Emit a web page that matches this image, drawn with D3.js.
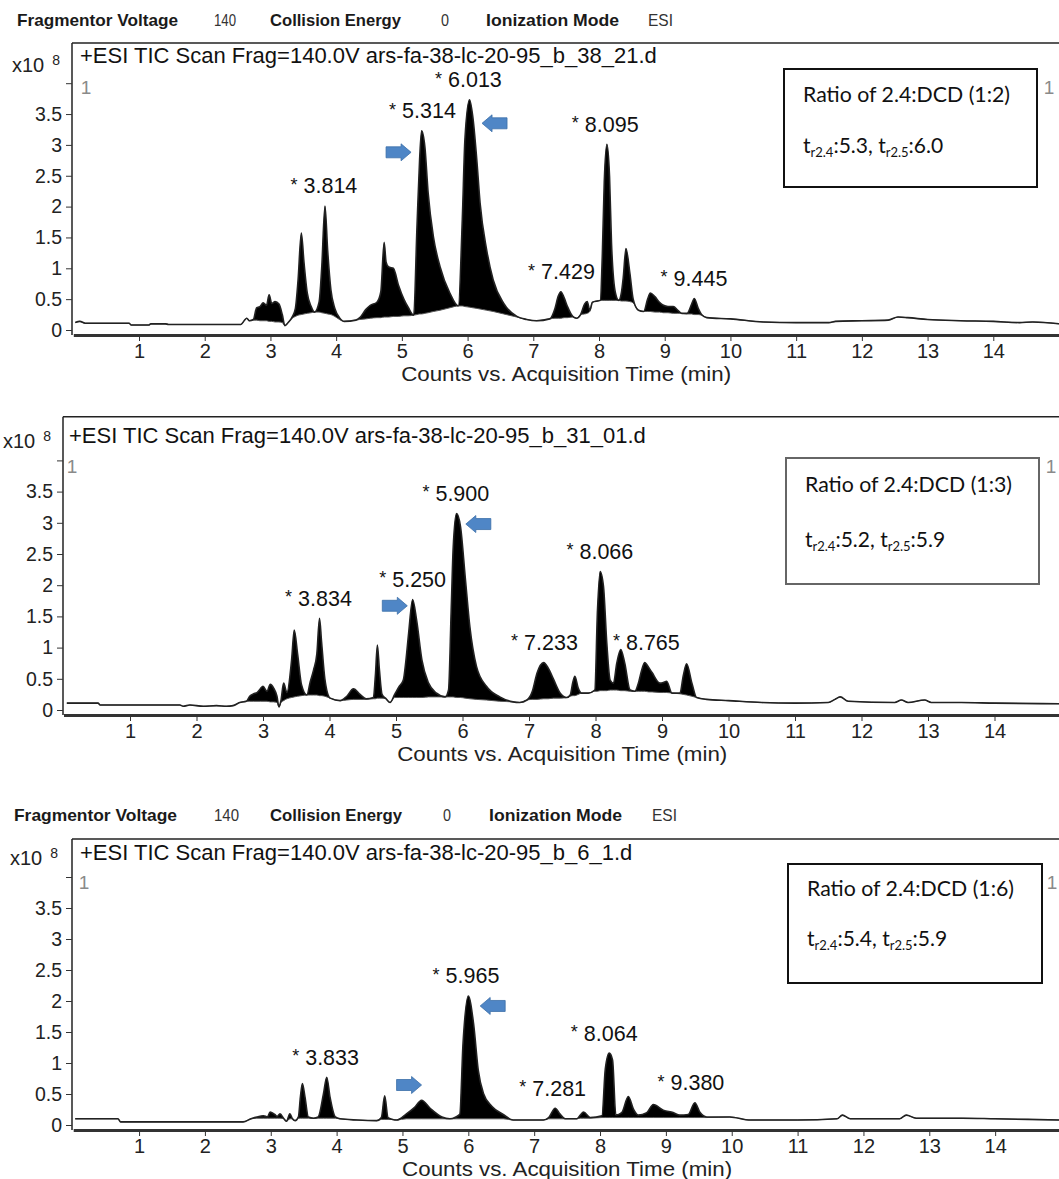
<!DOCTYPE html>
<html>
<head>
<meta charset="utf-8">
<script src="https://cdn.jsdelivr.net/npm/d3@7"></script>
<style>
body { margin: 0; background: #fff; }
svg { display: block; }
</style>
</head>
<body>
<svg id="chart" width="1059" height="1179"></svg>
<script>
// axis ticks (counts are x10^8)
var xTicks = [1, 2, 3, 4, 5, 6, 7, 8, 9, 10, 11, 12, 13, 14];
var yTicks = [0, 0.5, 1, 1.5, 2, 2.5, 3, 3.5, 4];
var yTickLabels = ["0", "0.5", "1", "1.5", "2", "2.5", "3", "3.5", ""];

var headerLabels = ["Fragmentor Voltage", "140", "Collision Energy", "0", "Ionization Mode", "ESI"];
var runTitles = [
	"+ESI TIC Scan Frag=140.0V ars-fa-38-lc-20-95_b_38_21.d",
	"+ESI TIC Scan Frag=140.0V ars-fa-38-lc-20-95_b_31_01.d",
	"+ESI TIC Scan Frag=140.0V ars-fa-38-lc-20-95_b_6_1.d"
];
var ratios = ["1:2", "1:3", "1:6"];
var rt24 = ["5.3", "5.2", "5.4"];
var rt25 = ["6.0", "5.9", "5.9"];

// [time (min), TIC, integration baseline]
var run1Trace = [[0.03,0.12,0.12],[0.1,0.14,0.14],[0.18,0.11,0.11],[0.85,0.11,0.11],[0.88,0.08,0.08],[1.15,0.08,0.08],[1.18,0.10,0.10],[1.4,0.10,0.10],[1.45,0.09,0.09],[2.55,0.09,0.09],[2.6,0.15,0.15],[2.64,0.19,0.19],[2.68,0.15,0.15],[2.74,0.17,0.16],[2.79,0.36,0.16],[2.84,0.38,0.15],[2.89,0.44,0.15],[2.94,0.40,0.15],[2.98,0.57,0.14],[3.02,0.43,0.14],[3.07,0.46,0.13],[3.13,0.42,0.13],[3.18,0.25,0.12],[3.22,0.07,0.07],[3.27,0.12,0.12],[3.33,0.21,0.19],[3.38,0.35,0.22],[3.42,0.80,0.24],[3.47,1.57,0.25],[3.51,1.10,0.26],[3.56,0.60,0.27],[3.62,0.38,0.28],[3.67,0.29,0.29],[3.74,0.45,0.29],[3.78,1.00,0.28],[3.83,2.01,0.27],[3.87,1.30,0.26],[3.92,0.65,0.25],[3.98,0.35,0.22],[4.05,0.20,0.17],[4.12,0.14,0.14],[4.3,0.16,0.16],[4.36,0.20,0.17],[4.45,0.33,0.18],[4.52,0.40,0.19],[4.62,0.45,0.20],[4.68,0.62,0.20],[4.73,1.42,0.21],[4.76,1.10,0.21],[4.80,1.02,0.21],[4.87,1.00,0.22],[4.95,0.72,0.22],[5.03,0.50,0.23],[5.10,0.36,0.23],[5.18,0.24,0.24],[5.23,1.67,0.25],[5.27,2.76,0.26],[5.30,3.23,0.26],[5.35,2.97,0.27],[5.40,2.22,0.28],[5.48,1.51,0.30],[5.58,1.03,0.32],[5.73,0.60,0.36],[5.86,0.39,0.39],[5.92,1.80,0.39],[5.96,3.10,0.38],[6.03,3.73,0.37],[6.08,3.45,0.36],[6.14,2.76,0.35],[6.19,2.06,0.34],[6.29,1.30,0.32],[6.39,0.81,0.30],[6.55,0.43,0.26],[6.75,0.22,0.21],[6.90,0.17,0.17],[7.05,0.15,0.15],[7.25,0.18,0.18],[7.33,0.35,0.19],[7.38,0.55,0.19],[7.42,0.62,0.19],[7.47,0.52,0.20],[7.52,0.38,0.20],[7.60,0.22,0.21],[7.66,0.19,0.19],[7.72,0.25,0.25],[7.78,0.42,0.26],[7.82,0.46,0.27],[7.86,0.32,0.30],[7.9,0.45,0.45],[8.02,0.48,0.48],[8.05,1.20,0.48],[8.08,2.40,0.48],[8.12,3.01,0.48],[8.16,2.49,0.48],[8.19,1.41,0.48],[8.25,0.60,0.48],[8.30,0.48,0.48],[8.34,0.60,0.47],[8.37,0.86,0.47],[8.41,1.32,0.47],[8.47,0.92,0.46],[8.52,0.50,0.44],[8.60,0.32,0.32],[8.68,0.30,0.30],[8.74,0.50,0.30],[8.78,0.60,0.30],[8.85,0.54,0.29],[8.92,0.45,0.29],[8.98,0.40,0.28],[9.05,0.38,0.28],[9.13,0.38,0.27],[9.2,0.32,0.27],[9.26,0.27,0.27],[9.34,0.27,0.26],[9.41,0.42,0.26],[9.45,0.51,0.25],[9.51,0.35,0.25],[9.56,0.25,0.24],[9.64,0.20,0.20],[10.0,0.18,0.18],[10.5,0.13,0.13],[11.0,0.12,0.12],[11.5,0.12,0.12],[11.6,0.14,0.14],[12.0,0.15,0.15],[12.4,0.16,0.16],[12.55,0.21,0.21],[12.7,0.20,0.20],[13.0,0.17,0.17],[13.5,0.15,0.15],[14.0,0.14,0.14],[14.4,0.12,0.12],[14.6,0.13,0.13],[15.0,0.10,0.10]];

var run2Trace = [[0.05,0.11,0.11],[0.52,0.11,0.11],[0.55,0.08,0.08],[1.75,0.08,0.08],[1.8,0.06,0.06],[1.9,0.08,0.08],[2.1,0.06,0.06],[2.3,0.07,0.07],[2.45,0.06,0.06],[2.55,0.07,0.07],[2.65,0.12,0.12],[2.75,0.14,0.14],[2.80,0.22,0.14],[2.86,0.26,0.14],[2.91,0.28,0.14],[2.96,0.34,0.14],[3.00,0.38,0.14],[3.06,0.30,0.14],[3.11,0.41,0.13],[3.16,0.35,0.13],[3.21,0.22,0.12],[3.24,0.05,0.05],[3.27,0.15,0.12],[3.31,0.43,0.15],[3.36,0.28,0.18],[3.43,0.80,0.20],[3.47,1.28,0.21],[3.52,0.90,0.22],[3.58,0.40,0.23],[3.66,0.24,0.24],[3.71,0.45,0.24],[3.76,0.64,0.24],[3.81,0.90,0.24],[3.85,1.47,0.23],[3.88,1.10,0.23],[3.93,0.50,0.22],[4.01,0.19,0.19],[4.16,0.15,0.15],[4.26,0.22,0.16],[4.36,0.34,0.17],[4.46,0.25,0.17],[4.55,0.18,0.17],[4.66,0.20,0.18],[4.69,0.55,0.18],[4.72,1.04,0.19],[4.75,0.65,0.19],[4.79,0.25,0.19],[4.85,0.18,0.18],[4.91,0.12,0.12],[4.98,0.25,0.20],[5.05,0.38,0.20],[5.11,0.48,0.20],[5.15,0.80,0.20],[5.19,1.23,0.20],[5.25,1.77,0.20],[5.31,1.44,0.20],[5.39,0.80,0.20],[5.49,0.43,0.21],[5.61,0.27,0.21],[5.74,0.21,0.21],[5.79,0.32,0.21],[5.83,1.60,0.21],[5.86,2.60,0.21],[5.91,3.15,0.20],[5.97,2.94,0.20],[6.04,2.14,0.19],[6.11,1.34,0.18],[6.21,0.70,0.17],[6.36,0.38,0.16],[6.56,0.21,0.14],[6.76,0.13,0.13],[6.86,0.12,0.12],[6.97,0.16,0.16],[7.05,0.30,0.17],[7.12,0.59,0.17],[7.22,0.76,0.18],[7.29,0.67,0.18],[7.37,0.49,0.19],[7.47,0.27,0.19],[7.57,0.20,0.20],[7.62,0.24,0.22],[7.66,0.45,0.23],[7.69,0.54,0.23],[7.74,0.35,0.25],[7.79,0.27,0.27],[7.89,0.27,0.27],[7.99,0.32,0.30],[8.03,1.60,0.30],[8.07,2.22,0.31],[8.12,1.98,0.31],[8.17,1.07,0.31],[8.22,0.48,0.32],[8.27,0.43,0.32],[8.32,0.75,0.32],[8.38,0.97,0.31],[8.44,0.75,0.31],[8.52,0.32,0.30],[8.59,0.30,0.30],[8.65,0.45,0.30],[8.69,0.62,0.30],[8.74,0.76,0.30],[8.80,0.68,0.29],[8.85,0.60,0.29],[8.97,0.43,0.28],[9.02,0.44,0.28],[9.07,0.46,0.28],[9.15,0.27,0.27],[9.27,0.27,0.26],[9.32,0.55,0.25],[9.37,0.74,0.24],[9.45,0.43,0.22],[9.52,0.20,0.20],[9.67,0.17,0.17],[10.0,0.15,0.15],[10.5,0.12,0.12],[11.0,0.11,0.11],[11.5,0.12,0.12],[11.6,0.17,0.17],[11.68,0.21,0.21],[11.8,0.14,0.14],[12.5,0.12,0.12],[12.6,0.16,0.16],[12.7,0.12,0.12],[12.95,0.16,0.16],[13.05,0.12,0.12],[13.5,0.12,0.12],[14.0,0.11,0.11],[15.0,0.10,0.10]];

var run3Trace = [[0.03,0.10,0.10],[0.68,0.10,0.10],[0.72,0.05,0.05],[2.58,0.05,0.05],[2.7,0.10,0.10],[2.79,0.13,0.11],[2.89,0.15,0.11],[2.95,0.13,0.11],[2.99,0.21,0.11],[3.06,0.17,0.11],[3.10,0.14,0.11],[3.14,0.18,0.11],[3.2,0.10,0.10],[3.24,0.06,0.06],[3.29,0.18,0.10],[3.33,0.10,0.10],[3.37,0.07,0.07],[3.42,0.13,0.11],[3.45,0.45,0.11],[3.48,0.67,0.11],[3.52,0.45,0.11],[3.57,0.13,0.11],[3.65,0.11,0.11],[3.72,0.13,0.11],[3.80,0.50,0.11],[3.85,0.77,0.11],[3.90,0.45,0.11],[3.98,0.13,0.11],[4.05,0.10,0.10],[4.31,0.08,0.08],[4.61,0.07,0.07],[4.68,0.12,0.09],[4.73,0.47,0.09],[4.78,0.12,0.09],[4.85,0.09,0.09],[4.91,0.08,0.08],[5.06,0.18,0.10],[5.18,0.28,0.10],[5.29,0.40,0.10],[5.42,0.27,0.10],[5.60,0.13,0.10],[5.72,0.10,0.10],[5.87,0.17,0.10],[5.92,1.32,0.10],[6.00,2.08,0.10],[6.08,1.63,0.10],[6.15,0.89,0.10],[6.23,0.51,0.10],[6.36,0.30,0.10],[6.53,0.17,0.10],[6.68,0.08,0.08],[7.14,0.08,0.08],[7.22,0.12,0.10],[7.32,0.27,0.10],[7.39,0.18,0.10],[7.47,0.10,0.10],[7.65,0.10,0.10],[7.70,0.16,0.11],[7.75,0.21,0.11],[7.85,0.12,0.11],[8.03,0.15,0.12],[8.08,0.90,0.12],[8.14,1.16,0.12],[8.19,1.05,0.12],[8.24,0.16,0.12],[8.33,0.20,0.12],[8.43,0.46,0.12],[8.51,0.25,0.12],[8.58,0.16,0.12],[8.71,0.20,0.12],[8.81,0.33,0.12],[8.96,0.24,0.12],[9.11,0.20,0.12],[9.21,0.16,0.12],[9.34,0.17,0.12],[9.44,0.36,0.12],[9.52,0.20,0.12],[9.62,0.13,0.12],[9.97,0.13,0.13],[10.28,0.08,0.08],[11.0,0.08,0.08],[11.6,0.10,0.10],[11.68,0.16,0.16],[11.8,0.10,0.10],[12.55,0.10,0.10],[12.65,0.16,0.16],[12.8,0.11,0.11],[13.5,0.11,0.11],[14.0,0.10,0.10],[15.0,0.08,0.08]];

// peak labels: [retention time text, apex height]
var run1Peaks = [["3.814", 2.01], ["5.314", 3.23], ["6.013", 3.73], ["7.429", 0.62], ["8.095", 3.01], ["9.445", 0.51]];
var run2Peaks = [["3.834", 1.47], ["5.250", 1.77], ["5.900", 3.15], ["7.233", 0.76], ["8.066", 2.22], ["8.765", 0.76]];
var run3Peaks = [["3.833", 0.77], ["5.965", 2.08], ["7.281", 0.27], ["8.064", 1.16], ["9.380", 0.36]];

// blue arrows: [tip time, tip height, direction]
var run1Arrows = [[5.14, 2.88, "right"], [6.22, 3.35, "left"]];
var run2Arrows = [[5.17, 1.67, "right"], [6.05, 2.98, "left"]];
var run3Arrows = [[5.29, 0.645, "right"], [6.18, 1.92, "left"]];

var svg = d3.select("#chart");
var SANS = "'Liberation Sans', Arial, sans-serif";
var NARROW = "'Liberation Sans Narrow', 'Arial Narrow', 'Liberation Sans', sans-serif";

var panels = [
	{ id: 1, trace: run1Trace, peaks: run1Peaks, arrows: run1Arrows, headerY: 20,
	  headerX: [17, 214, 270, 441, 486, 648], headerW: [161, 22, 131, 8, 133, 25],
	  frameLeft: 72, x0: 73.3, x15: 1059, top: 43, zeroY: 330, ppu: 61.7,
	  titleX: 80, titleY: 55, expX: 12, expY: 65, oneL: [86, 87], oneR: [1049, 87],
	  box: [784, 69, 253, 118], boxStroke: "#111", textX: 803, line1Y: 95, line2Y: 146 },
	{ id: 2, trace: run2Trace, peaks: run2Peaks, arrows: run2Arrows, headerY: null,
	  frameLeft: 63, x0: 63.5, x15: 1061, top: 416.7, zeroY: 710, ppu: 62.4,
	  titleX: 69, titleY: 435, expX: 3, expY: 441, oneL: [72, 466], oneR: [1051, 466],
	  box: [786, 458, 253, 126], boxStroke: "#666", textX: 805, line1Y: 485, line2Y: 540 },
	{ id: 3, trace: run3Trace, peaks: run3Peaks, arrows: run3Arrows, headerY: 815,
	  headerX: [14, 214, 270, 443, 489, 652], headerW: [163, 25, 132, 8, 133, 25],
	  frameLeft: 72, x0: 73.2, x15: 1061, top: 839, zeroY: 1125, ppu: 62,
	  titleX: 80, titleY: 852, expX: 10, expY: 858, oneL: [84, 882], oneR: [1052, 882],
	  box: [788, 864, 254, 119], boxStroke: "#111", textX: 807, line1Y: 889, line2Y: 939 }
];

panels.forEach(function(p, i) {
	var x = d3.scaleLinear().domain([0, 15]).range([p.x0, p.x15]);
	var y = d3.scaleLinear().domain([0, 4]).range([p.zeroY, p.zeroY - 4 * p.ppu]);
	var g = svg.append("g");
	var axisY = p.zeroY + 5;

	// instrument header line
	if (p.headerY) {
		g.selectAll(".hdr")
			.data(headerLabels)
			.enter()
			.append("text")
			.attr("x", function(d, j) { return p.headerX[j]; })
			.attr("y", p.headerY)
			.attr("dy", "0.35em")
			.attr("textLength", function(d, j) { return p.headerW[j]; })
			.attr("lengthAdjust", "spacingAndGlyphs")
			.style("font-family", NARROW)
			.style("font-size", "17px")
			.style("font-weight", function(d, j) { return j % 2 == 0 ? "bold" : "normal"; })
			.attr("fill", function(d, j) { return j % 2 == 0 ? "#1a1a1a" : "#333"; })
			.text(function(d) { return d; });
	}

	// frame
	g.append("line")
		.attr("x1", p.frameLeft).attr("x2", 1059)
		.attr("y1", p.top).attr("y2", p.top)
		.attr("stroke", "#222").attr("stroke-width", 1.5);
	g.append("line")
		.attr("x1", p.frameLeft).attr("x2", p.frameLeft)
		.attr("y1", p.top).attr("y2", axisY)
		.attr("stroke", "#222").attr("stroke-width", 1.5);

	g.append("text")
		.attr("x", p.titleX).attr("y", p.titleY).attr("dy", "0.35em")
		.style("font-family", SANS).style("font-size", "22px")
		.attr("fill", "#111")
		.text(runTitles[i]);

	// x10^8 multiplier
	var ex = g.append("text")
		.attr("x", p.expX).attr("y", p.expY).attr("dy", "0.35em")
		.style("font-family", SANS).style("font-size", "20px").attr("fill", "#222");
	ex.append("tspan").text("x10");
	ex.append("tspan").attr("dx", 8).attr("dy", -7).style("font-size", "14px").text("8");

	// grey run number labels
	[p.oneL, p.oneR].forEach(function(pos) {
		g.append("text")
			.attr("x", pos[0]).attr("y", pos[1]).attr("dy", "0.35em")
			.attr("text-anchor", "middle")
			.style("font-family", SANS).style("font-size", "19px")
			.attr("fill", "#8a8a8a")
			.text("1");
	});

	// chromatogram
	g.append("clipPath").attr("id", "clip" + p.id)
		.append("rect")
		.attr("x", p.frameLeft + 1).attr("y", p.top + 1)
		.attr("width", 1059 - p.frameLeft).attr("height", axisY - p.top - 2);
	var plot = g.append("g").attr("clip-path", "url(#clip" + p.id + ")");

	var area = d3.area()
		.curve(d3.curveMonotoneX)
		.x(function(d) { return x(d[0]); })
		.y0(function(d) { return y(d[2]); })
		.y1(function(d) { return y(Math.max(d[1], d[2])); });
	var tic = d3.line()
		.curve(d3.curveMonotoneX)
		.x(function(d) { return x(d[0]); })
		.y(function(d) { return y(d[1]); });
	var base = d3.line()
		.curve(d3.curveMonotoneX)
		.x(function(d) { return x(d[0]); })
		.y(function(d) { return y(d[2]); });

	plot.append("path").datum(p.trace).attr("d", area).attr("fill", "#000");
	plot.append("path").datum(p.trace).attr("d", base)
		.attr("fill", "none").attr("stroke", "#555").attr("stroke-width", 1);
	plot.append("path").datum(p.trace).attr("d", tic)
		.attr("fill", "none").attr("stroke", "#222").attr("stroke-width", 1.6);

	// axes
	var xAxis = g.append("g")
		.attr("transform", "translate(0," + axisY + ")")
		.call(d3.axisBottom(x).tickValues(xTicks).tickSize(6).tickSizeOuter(0).tickPadding(3));
	xAxis.select(".domain").attr("stroke", "#333").attr("stroke-width", 3);
	xAxis.selectAll(".tick line").attr("stroke", "#333");
	xAxis.selectAll("text")
		.style("font-family", NARROW).style("font-size", "20px").attr("fill", "#222");

	var yAxis = g.append("g")
		.attr("transform", "translate(" + p.frameLeft + ",0)")
		.call(d3.axisLeft(y).tickValues(yTicks).tickSize(6).tickSizeOuter(0).tickPadding(4)
			.tickFormat(function(d, j) { return yTickLabels[j]; }));
	yAxis.select(".domain").remove();
	yAxis.selectAll(".tick line").attr("stroke", "#333");
	yAxis.selectAll("text")
		.style("font-family", SANS).style("font-size", "19.5px").attr("fill", "#222");

	g.append("text")
		.attr("x", (p.x0 + p.x15) / 2).attr("y", p.zeroY + 44).attr("dy", "0.35em")
		.attr("text-anchor", "middle")
		.attr("textLength", 330).attr("lengthAdjust", "spacingAndGlyphs")
		.style("font-family", NARROW).style("font-size", "20px").attr("fill", "#222")
		.text("Counts vs. Acquisition Time (min)");

	// peak labels
	var lbl = g.selectAll(".peak")
		.data(p.peaks)
		.enter()
		.append("text")
		.attr("class", "peak")
		.attr("x", function(d) { return x(+d[0]); })
		.attr("y", function(d) { return y(d[1]) - 13; })
		.attr("dy", "0.35em")
		.attr("text-anchor", "middle")
		.style("font-family", SANS).style("font-size", "21.5px").attr("fill", "#111");
	lbl.append("tspan").attr("dy", "-0.12em").style("font-size", "18px").text("*");
	lbl.append("tspan").attr("dy", "0.12em").text(function(d) { return " " + d[0]; });

	// blue arrows
	g.selectAll(".arrow")
		.data(p.arrows)
		.enter()
		.append("path")
		.attr("class", "arrow")
		.attr("d", function(d) {
			var tx = x(d[0]), ty = y(d[1]);
			var s = d[2] == "right" ? -1 : 1;
			var w = 25, hw = 10, bh = 5.5, hh = 8.5;
			return "M" + tx + "," + ty +
				"L" + (tx + s * hw) + "," + (ty - hh) +
				"L" + (tx + s * hw) + "," + (ty - bh) +
				"L" + (tx + s * w) + "," + (ty - bh) +
				"L" + (tx + s * w) + "," + (ty + bh) +
				"L" + (tx + s * hw) + "," + (ty + bh) +
				"L" + (tx + s * hw) + "," + (ty + hh) + "Z";
		})
		.attr("fill", "#4f86c6")
		.attr("stroke", "#3b6ea8")
		.attr("stroke-width", 0.8);

	// ratio box
	g.append("rect")
		.attr("x", p.box[0]).attr("y", p.box[1])
		.attr("width", p.box[2]).attr("height", p.box[3])
		.attr("fill", "#fff").attr("stroke", p.boxStroke).attr("stroke-width", 2);
	g.append("text")
		.attr("x", p.textX).attr("y", p.line1Y).attr("dy", "0.35em")
		.attr("textLength", 207).attr("lengthAdjust", "spacingAndGlyphs")
		.style("font-family", "Lato, 'Open Sans', sans-serif").style("font-size", "21px").attr("fill", "#111")
		.text("Ratio of 2.4:DCD (" + ratios[i] + ")");
	var t2 = g.append("text")
		.attr("x", p.textX).attr("y", p.line2Y).attr("dy", "0.35em")
		.style("font-family", "Lato, 'Open Sans', sans-serif").style("font-size", "21px").attr("fill", "#111");
	t2.append("tspan").text("t");
	t2.append("tspan").attr("dy", 4).style("font-size", "13px").text("r2.4");
	t2.append("tspan").attr("dy", -4).text(":" + rt24[i] + ", t");
	t2.append("tspan").attr("dy", 4).style("font-size", "13px").text("r2.5");
	t2.append("tspan").attr("dy", -4).text(":" + rt25[i]);
});
</script>
</body>
</html>
